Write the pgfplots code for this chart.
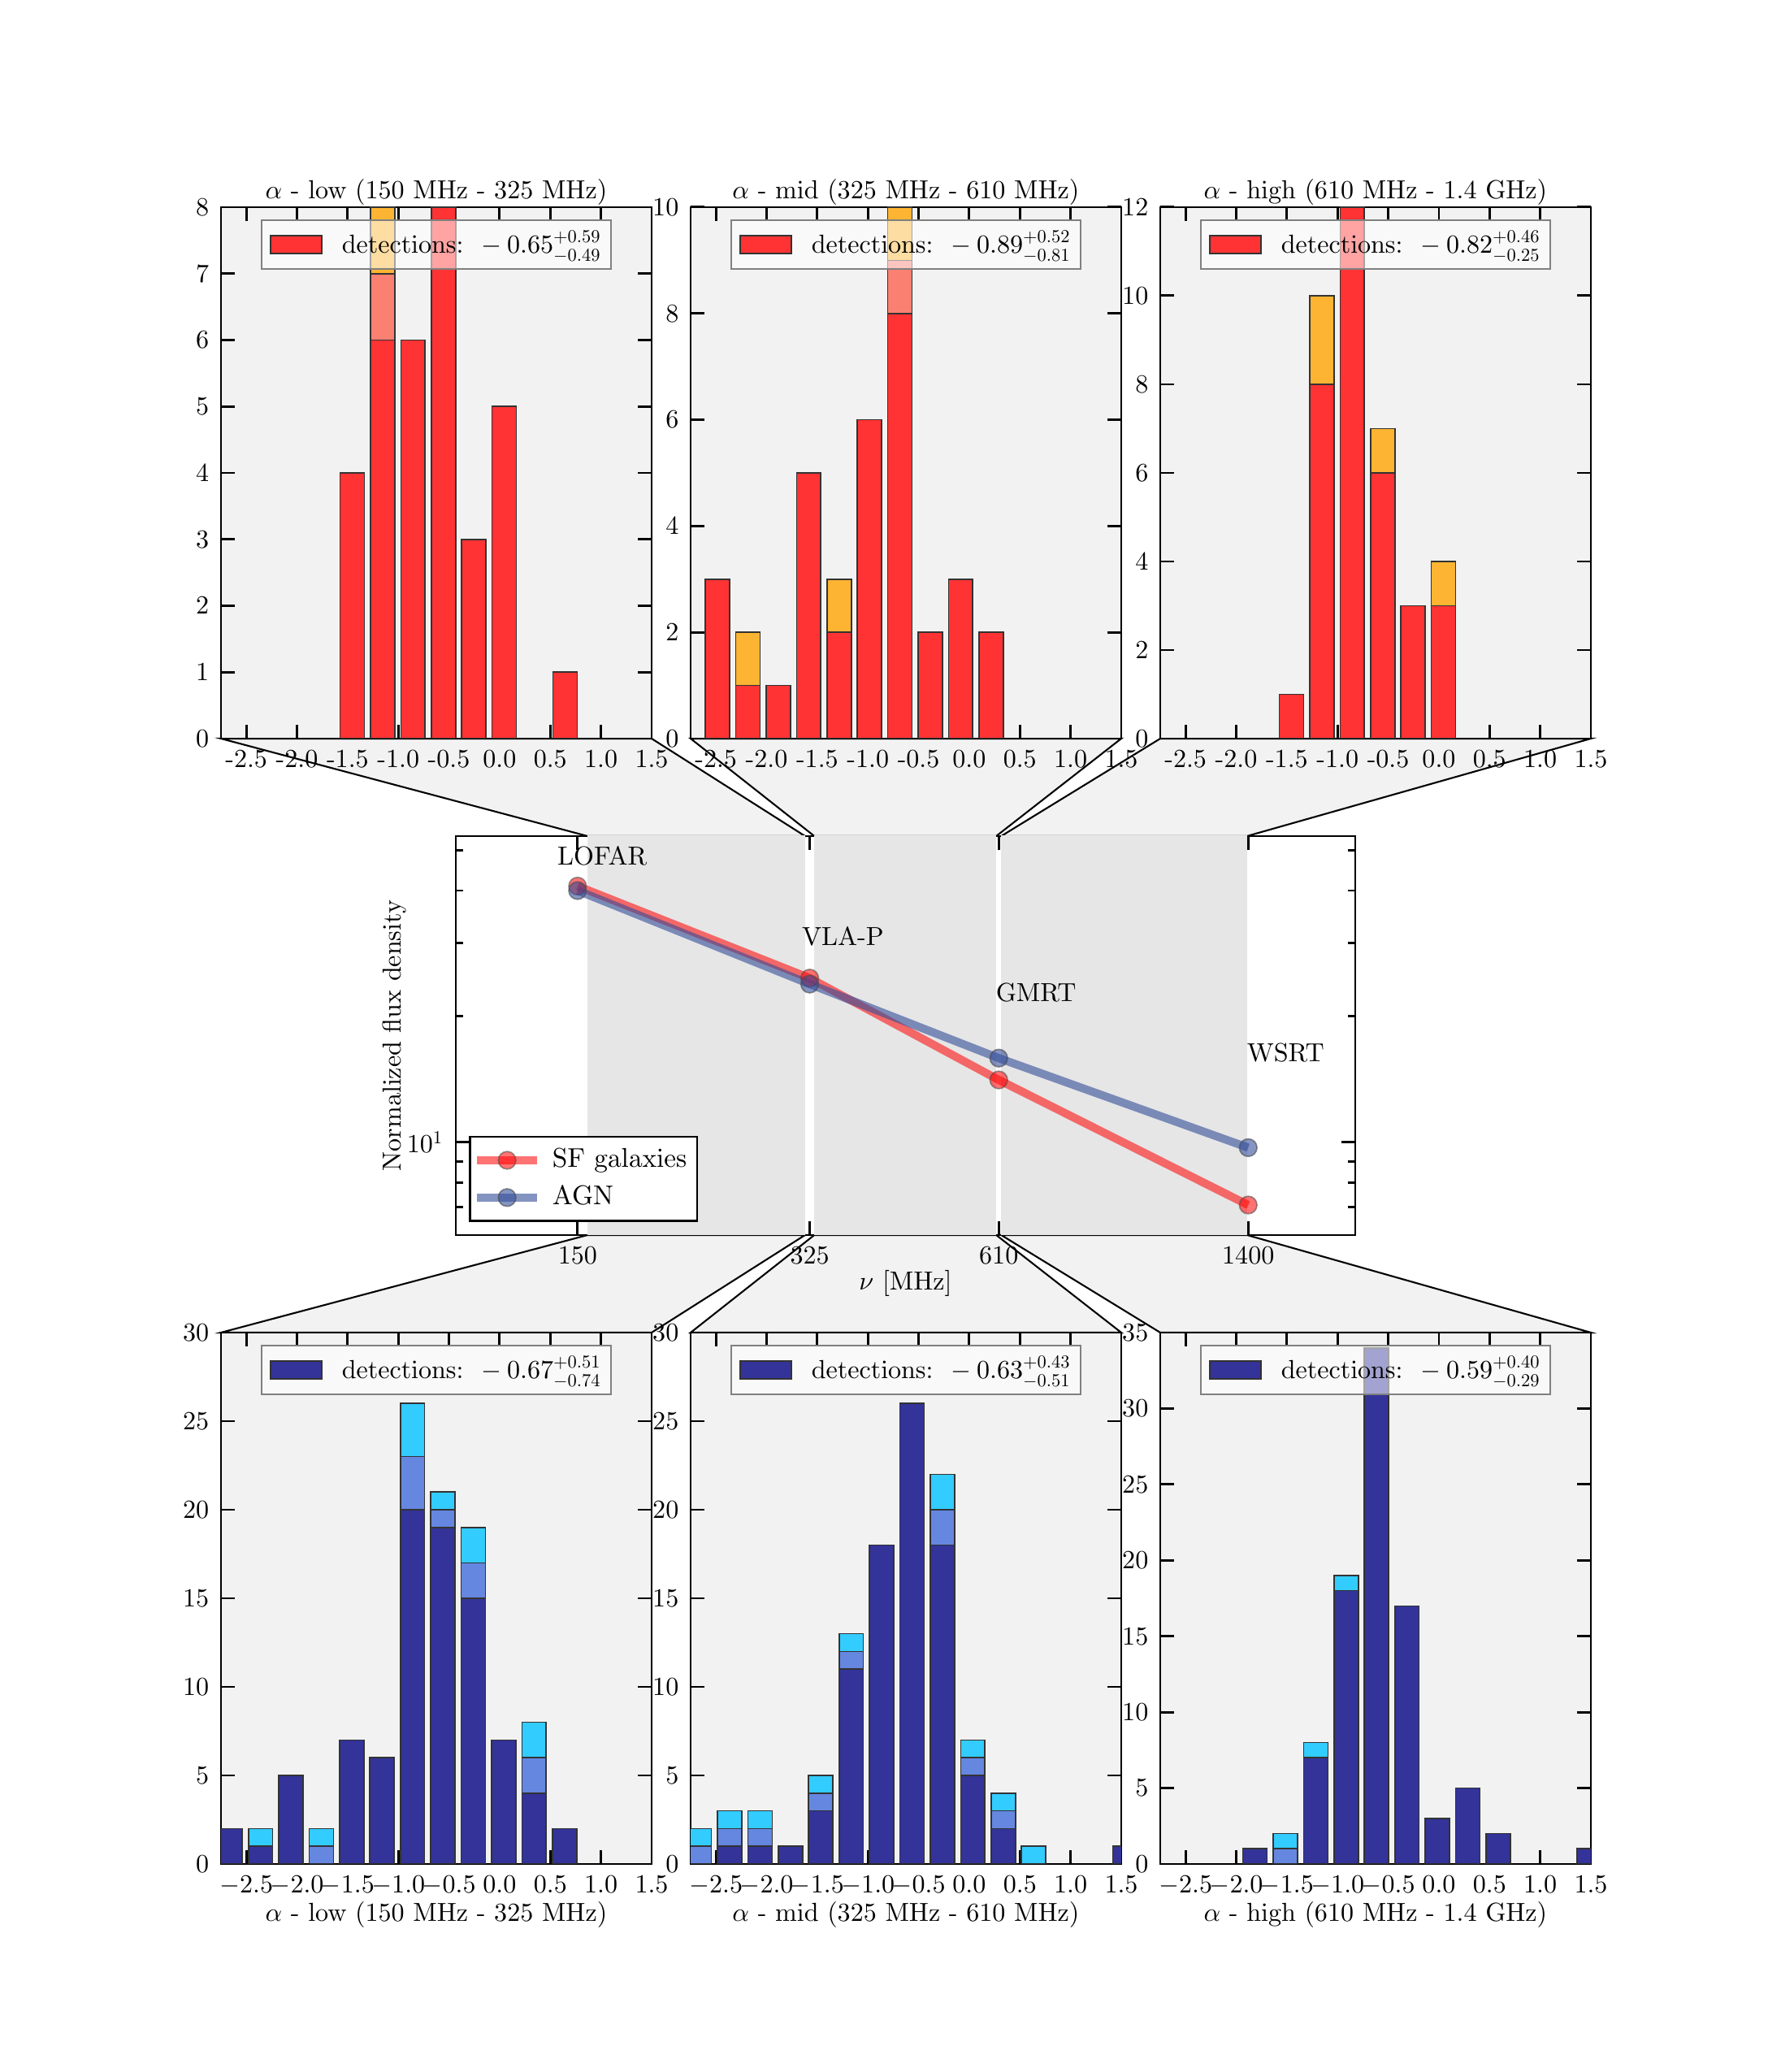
\documentclass[border=0pt]{standalone}
\usepackage[OT1]{fontenc}
\renewcommand{\rmdefault}{cmr}
\DeclareFontShape{OT1}{cmr}{m}{n}{<->cmr10}{}
\DeclareFontShape{OML}{cmm}{m}{it}{<->cmmi10}{}
\DeclareFontShape{OMS}{cmsy}{m}{n}{<->cmsy10}{}
\usepackage{pgfplots}
\pgfplotsset{compat=1.18}
\definecolor{sfd}{RGB}{255,51,51}
\definecolor{sfm}{RGB}{250,128,114}
\definecolor{sfl}{RGB}{252,180,50}
\definecolor{agd}{RGB}{51,51,153}
\definecolor{agm}{RGB}{101,135,224}
\definecolor{agl}{RGB}{51,204,255}
\definecolor{bgc}{RGB}{242,242,242}
\definecolor{spanc}{RGB}{230,230,230}
\definecolor{agnc}{RGB}{51,77,153}
\pgfplotsset{
  every axis/.append style={font=\fontsize{7.7}{9.2}\selectfont},
  myhist/.style={
    scale only axis, width=127.2pt, height=156.96pt, anchor=south west,
    xmin=-2.75, xmax=1.5, ymin=0,
    xtick={-2.5,-2,...,1.5},
    axis background/.style={fill=bgc},
    tick align=inside, major tick length=4pt,
    tick style={black, line width=0.7pt},
    axis line style={line width=0.5pt},
    legend style={at={(0.5,0.977)}, anchor=north, fill=white, fill opacity=0.55,
      draw opacity=1, text opacity=1, draw=gray, line width=0.5pt,
      inner xsep=2.4pt, inner ysep=2.2pt, font=\fontsize{7.7}{9.2}\selectfont,
      nodes={inner xsep=0.3pt, inner ysep=1pt},
      legend cell align=left},
    legend image code/.code={\draw[##1, fill opacity=1, draw opacity=1] (0pt,-2.65pt) rectangle (15.1pt,2.65pt); \path[draw=none, fill=none] (0pt,0pt) -- (20.8pt,0pt);},
    every axis title shift=0pt,
    every axis title/.style={at={(0.5,1)}, anchor=south, inner sep=2pt, yshift=-1.6pt},
  },
  toprow/.style={xticklabels={-2.5,-2.0,-1.5,-1.0,-0.5,0.0,0.5,1.0,1.5}},
  botrow/.style={xticklabel style={/pgf/number format/.cd, fixed, fixed zerofill, precision=1},
    every axis x label/.style={at={(axis description cs:0.5,-0.0948)}, anchor=center}},
  mybar/.style={ybar, bar width=0.24, bar shift=0pt, draw=black!80, line width=0.4pt},
}
\begin{document}
\begin{tikzpicture}[font=\fontsize{7.7}{9.2}\selectfont]
\useasboundingbox (0,0) rectangle (522pt,612pt);
% connectors
\filldraw[fill=bgc, draw=black, line width=0.5pt] (65.28pt,393.84pt) -- (192.48pt,393.84pt) -- (237.8pt,365.04pt) -- (173.52pt,365.04pt) -- cycle;
\filldraw[fill=bgc, draw=black, line width=0.5pt] (204pt,393.84pt) -- (331.2pt,393.84pt) -- (294.28pt,365.04pt) -- (240.53pt,365.04pt) -- cycle;
\filldraw[fill=bgc, draw=black, line width=0.5pt] (342.72pt,393.84pt) -- (469.92pt,393.84pt) -- (368.37pt,365.04pt) -- (295.74pt,365.04pt) -- cycle;
\filldraw[fill=bgc, draw=black, line width=0.5pt] (173.52pt,247.2pt) -- (237.8pt,247.2pt) -- (192.48pt,218.4pt) -- (65.28pt,218.4pt) -- cycle;
\filldraw[fill=bgc, draw=black, line width=0.5pt] (240.53pt,247.2pt) -- (294.28pt,247.2pt) -- (331.2pt,218.4pt) -- (204pt,218.4pt) -- cycle;
\filldraw[fill=bgc, draw=black, line width=0.5pt] (295.74pt,247.2pt) -- (368.37pt,247.2pt) -- (469.92pt,218.4pt) -- (342.72pt,218.4pt) -- cycle;

% ---------- top left
\begin{axis}[myhist, toprow, at={(65.28pt,393.84pt)}, ymax=8, ytick={0,...,8},
  title={$\alpha$ - low (150 MHz - 325 MHz)}]
\addplot[mybar, fill=sfl, forget plot] coordinates {(-1.155,8)};
\addplot[mybar, fill=sfm, forget plot] coordinates {(-1.155,7)};
\addplot[mybar, fill=sfd] coordinates {(-1.455,4) (-1.155,6) (-0.855,6) (-0.555,8) (-0.255,3) (0.045,5) (0.645,1)};
\addlegendentry{detections: ${}-0.65^{+0.59}_{-0.49}$}
\end{axis}
% ---------- top mid
\begin{axis}[myhist, toprow, at={(204pt,393.84pt)}, ymax=10, ytick={0,2,...,10},
  title={$\alpha$ - mid (325 MHz - 610 MHz)}]
\addplot[mybar, fill=sfl, forget plot] coordinates {(-2.185,2) (-1.285,3) (-0.685,10)};
\addplot[mybar, fill=sfm, forget plot] coordinates {(-0.685,9)};
\addplot[mybar, fill=sfd] coordinates {(-2.485,3) (-2.185,1) (-1.885,1) (-1.585,5) (-1.285,2) (-0.985,6) (-0.685,8) (-0.385,2) (-0.085,3) (0.215,2)};
\addlegendentry{detections: ${}-0.89^{+0.52}_{-0.81}$}
\end{axis}
% ---------- top right
\begin{axis}[myhist, toprow, at={(342.72pt,393.84pt)}, ymax=12, ytick={0,2,...,12},
  title={$\alpha$ - high (610 MHz - 1.4 GHz)}]
\addplot[mybar, fill=sfl, forget plot] coordinates {(-1.155,10) (-0.555,7) (0.045,4)};
\addplot[mybar, fill=sfd] coordinates {(-1.455,1) (-1.155,8) (-0.855,12) (-0.555,6) (-0.255,3) (0.045,3)};
\addlegendentry{detections: ${}-0.82^{+0.46}_{-0.25}$}
\end{axis}

% ---------- middle
\begin{axis}[at={(134.64pt,247.2pt)}, anchor=south west, scale only axis,
  width=265.68pt, height=117.84pt,
  xmode=log, ymode=log, xmin=100, xmax=2000, ymin=6, ymax=54,
  xtick={150,325,610,1400}, xticklabels={150,325,610,1400},
  minor xtick={200,300,400,500,600,700,800,900,1000},
  ytick={10}, yticklabels={$10^1$}, minor ytick={7,8,9,20,30,40,50},
  tick align=inside, major tick length=4pt, minor tick length=2.2pt,
  tick style={black, line width=0.7pt},
  axis line style={line width=0.6pt},
  xlabel={$\nu$ [MHz]}, ylabel={Normalized flux density},
  every axis x label/.style={at={(axis description cs:0.5,-0.122)}, anchor=center},
  every axis y label/.style={at={(axis description cs:-0.0687,0.5)}, rotate=90, anchor=center},
  legend style={at={(0.0145,0.033)}, anchor=south west, draw=black, line width=0.6pt,
    fill=white, font=\fontsize{8}{9}\selectfont, row sep=0pt,
    inner xsep=1pt, inner ysep=1.4pt, legend cell align=left},
  legend image code/.code={\draw[mark repeat=2, mark phase=2, #1] plot coordinates {(0pt,0pt) (8.8pt,0pt) (17.6pt,0pt)}; \path[draw=none, fill=none] (0pt,0pt) -- (20.2pt,0pt);},
]
\addplot[fill=spanc, draw=none, forget plot] coordinates {(155,1) (320,1) (320,100) (155,100)} -- cycle;
\addplot[fill=spanc, draw=none, forget plot] coordinates {(330,1) (605,1) (605,100) (330,100)} -- cycle;
\addplot[fill=spanc, draw=none, forget plot] coordinates {(615,1) (1395,1) (1395,100) (615,100)} -- cycle;
\addplot[color=red, opacity=0.55, line width=2.4pt, mark=*, mark size=2.6pt,
  mark options={fill=red, draw=black!70, line width=0.4pt}]
  coordinates {(150,41.0) (325,24.7) (610,14.1) (1400,7.08)};
\addlegendentry{SF galaxies}
\addplot[color=agnc, opacity=0.6, line width=2.4pt, mark=*, mark size=2.6pt,
  mark options={fill=agnc, draw=black!70, line width=0.4pt}]
  coordinates {(150,40.0) (325,23.9) (610,15.9) (1400,9.71)};
\addlegendentry{AGN}
\node[anchor=west, inner sep=0pt] at (axis cs:140,48.3) {LOFAR};
\node[anchor=west, inner sep=0pt] at (axis cs:316,31.0) {VLA-P};
\node[anchor=west, inner sep=0pt] at (axis cs:603,22.8) {GMRT};
\node[anchor=west, inner sep=0pt] at (axis cs:1392,16.4) {WSRT};
\end{axis}

% ---------- bottom left
\begin{axis}[myhist, botrow, at={(65.28pt,61.44pt)}, ymax=30, ytick={0,5,...,30},
  xlabel={$\alpha$ - low (150 MHz - 325 MHz)}]
\addplot[mybar, fill=agl, forget plot] coordinates {(-2.36,2) (-1.76,2) (-0.86,26) (-0.56,21) (-0.26,19) (0.34,8)};
\addplot[mybar, fill=agm, forget plot] coordinates {(-1.76,1) (-0.86,23) (-0.56,20) (-0.26,17) (0.34,6)};
\addplot[mybar, fill=agd] coordinates {(-2.66,2) (-2.36,1) (-2.06,5) (-1.46,7) (-1.16,6) (-0.86,20) (-0.56,19) (-0.26,15) (0.04,7) (0.34,4) (0.64,2)};
\addlegendentry{detections: ${}-0.67^{+0.51}_{-0.74}$}
\end{axis}
% ---------- bottom mid
\begin{axis}[myhist, botrow, at={(204pt,61.44pt)}, ymax=30, ytick={0,5,...,30},
  xlabel={$\alpha$ - mid (325 MHz - 610 MHz)}]
\addplot[mybar, fill=agl, forget plot] coordinates {(-2.665,2) (-2.365,3) (-2.065,3) (-1.465,5) (-1.165,13) (-0.265,22) (0.035,7) (0.335,4) (0.635,1)};
\addplot[mybar, fill=agm, forget plot] coordinates {(-2.665,1) (-2.365,2) (-2.065,2) (-1.465,4) (-1.165,12) (-0.265,20) (0.035,6) (0.335,3)};
\addplot[mybar, fill=agd] coordinates {(-2.365,1) (-2.065,1) (-1.765,1) (-1.465,3) (-1.165,11) (-0.865,18) (-0.565,26) (-0.265,18) (0.035,5) (0.335,2) (1.535,1)};
\addlegendentry{detections: ${}-0.63^{+0.43}_{-0.51}$}
\end{axis}
% ---------- bottom right
\begin{axis}[myhist, botrow, at={(342.72pt,61.44pt)}, ymax=35, ytick={0,5,...,35},
  xlabel={$\alpha$ - high (610 MHz - 1.4 GHz)}]
\addplot[mybar, fill=agl, forget plot] coordinates {(-1.515,2) (-1.215,8) (-0.915,19)};
\addplot[mybar, fill=agm, forget plot] coordinates {(-1.515,1)};
\addplot[mybar, fill=agd] coordinates {(-1.815,1) (-1.215,7) (-0.915,18) (-0.615,34) (-0.315,17) (-0.015,3) (0.285,5) (0.585,2) (1.485,1)};
\addlegendentry{detections: ${}-0.59^{+0.40}_{-0.29}$}
\end{axis}
\end{tikzpicture}
\end{document}
